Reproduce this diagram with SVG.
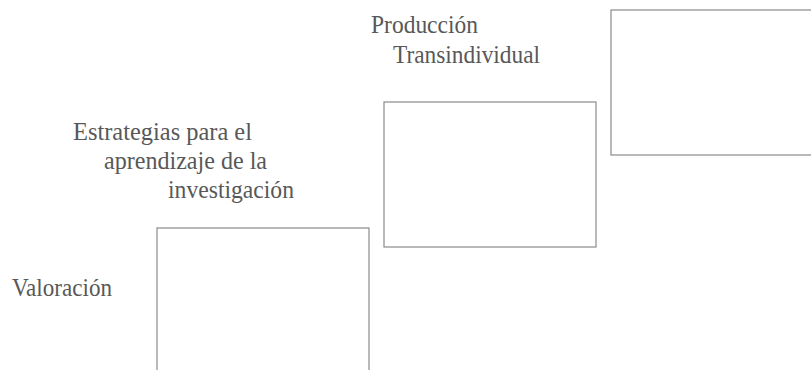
<svg xmlns="http://www.w3.org/2000/svg" width="811" height="370" viewBox="0 0 811 370">
<style>
.box{fill:none;stroke:#8a8a8a;stroke-width:1.2}
.lbl{font-family:"Liberation Serif","Times New Roman",serif;font-size:25px;fill:#585858}
</style>
<rect width="811" height="370" fill="#fff"/>
<g id="node-valoracion">
<rect class="box" x="157" y="228" width="212" height="160"/>
<text class="lbl" x="12" y="296" textLength="100" lengthAdjust="spacingAndGlyphs">Valoración</text>
</g>
<g id="node-estrategias">
<rect class="box" x="384" y="102" width="212" height="145"/>
<text class="lbl" x="73" y="140" textLength="179" lengthAdjust="spacingAndGlyphs">Estrategias para el</text>
<text class="lbl" x="104" y="169" textLength="163" lengthAdjust="spacingAndGlyphs">aprendizaje de la</text>
<text class="lbl" x="168" y="198" textLength="126" lengthAdjust="spacingAndGlyphs">investigación</text>
</g>
<g id="node-produccion">
<rect class="box" x="611" y="10" width="210" height="145"/>
<text class="lbl" x="371" y="33" textLength="107" lengthAdjust="spacingAndGlyphs">Producción</text>
<text class="lbl" x="393" y="63" textLength="147" lengthAdjust="spacingAndGlyphs">Transindividual</text>
</g>
<g id="connectors"></g>
</svg>
